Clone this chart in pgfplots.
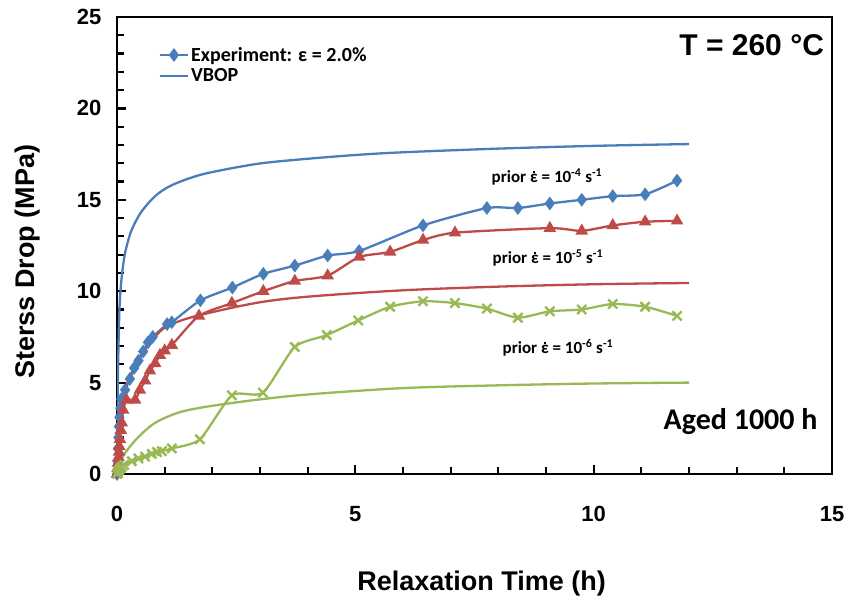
\documentclass[border=0pt]{standalone}
\usepackage{pgfplots}
\pgfplotsset{compat=1.18}
\usepackage{fontspec}
\setmainfont{Liberation Sans}
\newfontfamily\calibri{Carlito}
\definecolor{cblue}{HTML}{4A7EBB}
\definecolor{cred}{HTML}{BE4B48}
\definecolor{cgreen}{HTML}{98B954}
\newcommand{\edot}{\ooalign{ε\cr\hidewidth\raisebox{0.58em}{\rule{2pt}{2pt}}\hidewidth\cr}}
\begin{document}
\begin{tikzpicture}[x=1pt,y=1pt]
\path[use as bounding box] (0,0) rectangle (850,603);
\begin{axis}[
 at={(117pt,129pt)}, anchor=south west,
 width=715pt, height=457pt, scale only axis,
 xmin=0, xmax=15, ymin=0, ymax=25,
 xtick={0,5,10,15}, ytick={0,5,...,25},
 minor xtick={1,...,14}, minor ytick={1,...,24},
 tick align=inside, xtick pos=left, ytick pos=left,
 major tick length=9pt, minor tick length=7pt,
 every tick/.style={black, line width=2.2pt},
 axis line style={line width=2.6pt},
 ticklabel style={font=\bfseries\fontsize{22}{26}\selectfont},
 /pgf/number format/assume math mode=true,
 xticklabel style={yshift=-29pt},
 yticklabel style={xshift=-12pt},
 xlabel={Relaxation Time (h)},
 xlabel style={at={(axis description cs:0.51,-0.24)}, anchor=center, font=\bfseries\fontsize{27}{32}\selectfont},
 ylabel={Sterss Drop (MPa)},
 ylabel style={at={(axis description cs:-0.125,0.464)}, anchor=center, font=\bfseries\fontsize{27}{32}\selectfont},
 legend style={at={(axis description cs:0.054,0.943)}, anchor=north west, draw=none, fill=none,
   font=\calibri\bfseries\fontsize{20}{24}\selectfont, row sep=2pt},
 legend cell align=left,
 legend image code/.code={\draw[mark repeat=2,mark phase=2,#1] plot coordinates {(-3pt,0pt)(11pt,0pt)(25pt,0pt)};},
 every axis plot/.append style={line width=2.3pt},
]
% Experiment 10^-4 (blue)
\addplot[cblue, smooth, tension=0.4, mark=diamond*, mark size=5pt, mark options={fill=cblue}] coordinates {
(0,0) (0.01,0.7) (0.02,1.4) (0.03,2.0) (0.04,2.6) (0.05,3.1) (0.07,3.6) (0.09,4.1)
(0.17,4.6) (0.27,5.2) (0.36,5.8) (0.45,6.2) (0.55,6.7) (0.65,7.2) (0.75,7.5)
(1.05,8.2) (1.15,8.3) (1.75,9.5) (2.42,10.2) (3.07,10.95) (3.73,11.4) (4.42,11.95)
(5.08,12.2) (6.42,13.6) (7.76,14.55) (8.41,14.55) (9.08,14.8) (9.75,15.0) (10.4,15.2)
(11.08,15.3) (11.75,16.05)
};
\addlegendentry{Experiment: ε = 2.0\%}
% VBOP blue
\addplot[cblue, smooth, no markers] coordinates {
(0,0) (0.01,3.5) (0.02,5.5) (0.04,8.0) (0.06,9.5) (0.1,10.8) (0.17,12.1) (0.3,13.3)
(0.5,14.3) (0.8,15.2) (1.15,15.8) (1.8,16.4) (2.9,16.95) (3.8,17.2) (5,17.45) (6,17.6)
(8,17.8) (10,17.95) (12,18.05)
};
\addlegendentry{VBOP}
% Experiment 10^-5 (red)
\addplot[cred, smooth, tension=0.4, mark=triangle*, mark size=5pt, mark options={fill=cred}, forget plot] coordinates {
(0,0) (0.01,0.3) (0.02,0.6) (0.03,0.9) (0.04,1.2) (0.05,1.5) (0.06,1.9) (0.08,2.4)
(0.10,2.8) (0.13,3.5) (0.2,4.05) (0.38,4.05) (0.48,4.6) (0.59,5.1) (0.69,5.65) (0.8,6.05)
(0.9,6.5) (1.0,6.75) (1.15,7.05) (1.72,8.65) (2.41,9.35) (3.07,10.0) (3.73,10.56)
(4.42,10.85) (5.08,11.87) (5.73,12.15) (6.42,12.8) (7.09,13.2) (9.08,13.45) (9.75,13.3)
(10.4,13.6) (11.08,13.8) (11.75,13.85)
};
% VBOP red
\addplot[cred, smooth, no markers, forget plot] coordinates {
(0,0) (0.02,1.2) (0.06,2.8) (0.1,3.7) (0.17,4.6) (0.3,5.5) (0.44,6.2) (0.65,7.05)
(1.0,8.0) (1.6,8.6) (2.9,9.35) (4,9.7) (6,10.05) (8,10.25) (10,10.38) (12,10.45)
};
% Experiment 10^-6 (green)
\addplot[cgreen, smooth, tension=0.4, mark=x, mark size=6.5pt, mark options={line width=2.4pt}, forget plot] coordinates {
(0,0) (0.02,0.1) (0.04,0.2) (0.07,0.3) (0.1,0.4) (0.15,0.5) (0.31,0.7) (0.45,0.85)
(0.59,0.95) (0.73,1.1) (0.84,1.2) (0.94,1.25) (1.15,1.4) (1.74,1.9) (2.41,4.3)
(3.06,4.45) (3.73,6.95) (4.4,7.6) (5.06,8.4) (5.73,9.15) (6.42,9.45) (7.09,9.35)
(7.76,9.05) (8.41,8.55) (9.08,8.9) (9.75,9.0) (10.4,9.3) (11.08,9.15) (11.75,8.65)
};
% VBOP green
\addplot[cgreen, smooth, no markers, forget plot] coordinates {
(0,0) (0.05,0.5) (0.17,1.15) (0.44,2.0) (0.8,2.8) (1.28,3.35) (1.85,3.67) (2.9,4.05)
(4,4.35) (6,4.7) (8,4.85) (10,4.95) (12,5.0)
};
\node[font=\calibri\bfseries\fontsize{17}{20}\selectfont] at (axis cs:9.02,16.25) {prior \edot{} = 10\textsuperscript{-4} s\textsuperscript{-1}};
\node[font=\calibri\bfseries\fontsize{17}{20}\selectfont] at (axis cs:9.04,11.8) {prior \edot{} = 10\textsuperscript{-5} s\textsuperscript{-1}};
\node[font=\calibri\bfseries\fontsize{17}{20}\selectfont] at (axis cs:9.25,6.9) {prior \edot{} = 10\textsuperscript{-6} s\textsuperscript{-1}};
\node[anchor=east, font=\bfseries\fontsize{30}{36}\selectfont, inner sep=0pt] at (axis description cs:0.989,0.939) {T = 260 °C};
\node[anchor=east, font=\calibri\bfseries\fontsize{30}{36}\selectfont, inner sep=0pt] at (axis description cs:0.980,0.114) {Aged 1000 h};
\end{axis}
\end{tikzpicture}
\end{document}
